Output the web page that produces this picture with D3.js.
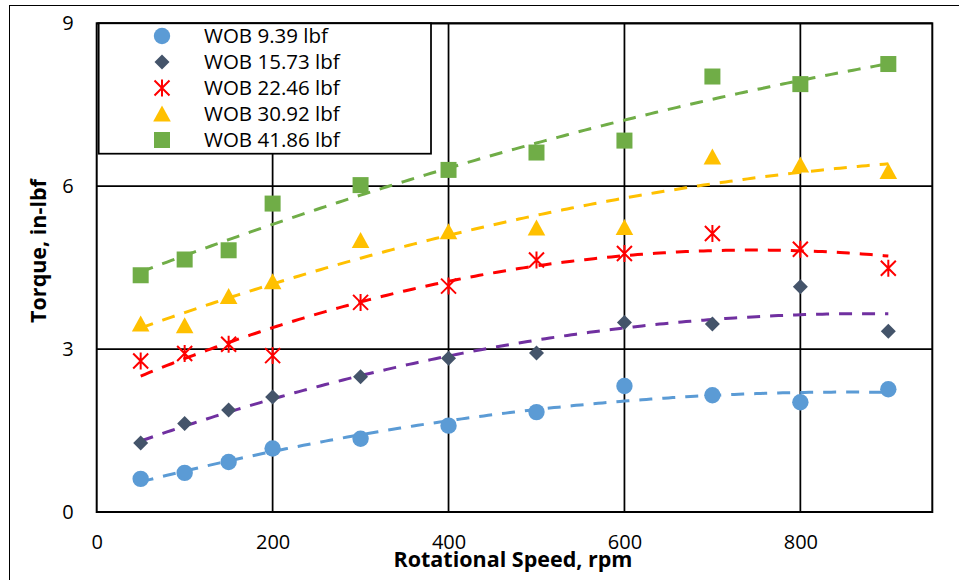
<!DOCTYPE html>
<html><head><meta charset="utf-8">
<script src="https://cdn.jsdelivr.net/npm/d3@7"></script>
<style>body{margin:0;background:#fff} svg{display:block}</style>
</head><body>
<svg id="c" width="959" height="580"></svg>
<script>
// ---- data ----
const rpm = [50,100,150,200,300,400,500,600,700,800,900];
const wob939  = [0.61,0.72,0.92,1.17,1.35,1.59,1.84,2.32,2.15,2.02,2.26];
const wob1573 = [1.27,1.63,1.88,2.12,2.49,2.83,2.93,3.49,3.46,4.15,3.33];
const wob2246 = [2.78,2.92,3.09,2.88,3.86,4.16,4.64,4.76,5.13,4.84,4.49];
const wob3092 = [3.46,3.43,3.97,4.24,5.00,5.16,5.23,5.24,6.54,6.39,6.27];
const wob4186 = [4.36,4.65,4.82,5.68,6.02,6.30,6.62,6.84,8.02,7.88,8.25];
const seriesNames = ["WOB 9.39 lbf","WOB 15.73 lbf","WOB 22.46 lbf","WOB 30.92 lbf","WOB 41.86 lbf"];
const markerColors = ["#5B9BD5","#44546A","#FF0000","#FFC000","#70AD47"];
const trendColors  = ["#5B9BD5","#7030A0","#FF0000","#FFC000","#70AD47"];
const shapes = ["circle","diamond","star","triangle","square"];
const xTicks = [0,200,400,600,800];
const yTicks = [0,3,6,9];
const xTitle = "Rotational Speed, rpm";
const yTitle = "Torque, in-lbf";

const allSeries = [wob939,wob1573,wob2246,wob3092,wob4186];

// ---- layout ----
const svg = d3.select("#c");
const L = 96.7, R = 932.3, T = 23.3, B = 512;
const x = d3.scaleLinear().domain([0,950]).range([L,R]);
const y = d3.scaleLinear().domain([0,9]).range([B,T]);
const FONT = "'Open Sans', Lato, sans-serif";

// outer frame
svg.append("rect").attr("x",9.5).attr("y",5.5).attr("width",1000).attr("height",1000)
  .attr("fill","#fff").attr("stroke","#000").attr("stroke-width",1);

// gridlines
const g = svg.append("g");
g.selectAll(".vg").data(xTicks.filter(d=>d>0)).join("line")
  .attr("x1",d=>x(d)).attr("x2",d=>x(d)).attr("y1",T).attr("y2",B)
  .attr("stroke","#000").attr("stroke-width",1.75);
g.selectAll(".hg").data(yTicks.filter(d=>d>0)).join("line")
  .attr("x1",L).attr("x2",R).attr("y1",d=>y(d)).attr("y2",d=>y(d))
  .attr("stroke","#000").attr("stroke-width",1.75);
// plot border
svg.append("rect").attr("x",L).attr("y",T).attr("width",R-L).attr("height",B-T)
  .attr("fill","none").attr("stroke","#000").attr("stroke-width",2);

// axes labels via d3 axes (no domain, no ticks)
const xAxis = svg.append("g").attr("transform",`translate(0,${B})`)
  .call(d3.axisBottom(x).tickValues(xTicks).tickSize(0).tickPadding(23).tickFormat(d3.format("d")));
xAxis.select(".domain").remove();
xAxis.selectAll("text").attr("font-family",FONT).attr("font-size",20).attr("fill","#000");
const yAxis = svg.append("g").attr("transform",`translate(${L},0)`)
  .call(d3.axisLeft(y).tickValues(yTicks).tickSize(0).tickPadding(23).tickFormat(d3.format("d")));
yAxis.select(".domain").remove();
yAxis.selectAll("text").attr("font-family",FONT).attr("font-size",20).attr("fill","#000");

svg.append("text").attr("x",513).attr("y",567).attr("text-anchor","middle")
  .attr("font-family",FONT).attr("font-weight","bold").attr("font-size",21.5).text(xTitle);
svg.append("text").attr("transform","translate(46,251) rotate(-90)").attr("text-anchor","middle")
  .attr("font-family",FONT).attr("font-weight","bold").attr("font-size",21.5).text(yTitle);

// ---- quadratic least-squares trend ----
function quadFit(xs, ys){
  let S=[0,0,0,0,0], Ty=[0,0,0];
  xs.forEach((xv,i)=>{ for(let k=0;k<5;k++) S[k]+=Math.pow(xv,k); for(let k=0;k<3;k++) Ty[k]+=ys[i]*Math.pow(xv,k); });
  const A=[[S[0],S[1],S[2],Ty[0]],[S[1],S[2],S[3],Ty[1]],[S[2],S[3],S[4],Ty[2]]];
  for(let i=0;i<3;i++){ for(let j=i+1;j<3;j++){ const f=A[j][i]/A[i][i]; for(let k=i;k<4;k++) A[j][k]-=f*A[i][k]; } }
  const c=[0,0,0];
  for(let i=2;i>=0;i--){ let s=A[i][3]; for(let k=i+1;k<3;k++) s-=A[i][k]*c[k]; c[i]=s/A[i][i]; }
  return xv => c[0]+c[1]*xv+c[2]*xv*xv;
}
const line = d3.line().x(d=>x(d[0])).y(d=>y(d[1]));
const xs = d3.range(rpm[0], rpm[rpm.length-1]+0.1, 5);
allSeries.forEach((s,i)=>{
  const f = quadFit(rpm, s);
  svg.append("path").attr("d", line(xs.map(v=>[v,f(v)])))
    .attr("fill","none").attr("stroke",trendColors[i]).attr("stroke-width",3)
    .attr("stroke-dasharray","13,10");
});

// ---- markers ----
function marker(sel, shape, color){
  if(shape==="circle") sel.append("circle").attr("r",8.2).attr("fill",color);
  else if(shape==="square") sel.append("rect").attr("x",-8).attr("y",-8).attr("width",16).attr("height",16).attr("fill",color);
  else if(shape==="diamond") sel.append("path").attr("d","M0,-7.5L7.5,0L0,7.5L-7.5,0Z").attr("fill",color);
  else if(shape==="triangle") sel.append("path").attr("d","M0,-8.5L8.8,7.5L-8.8,7.5Z").attr("fill",color);
  else if(shape==="star") sel.append("path").attr("d","M-7.5,-7.5L7.5,7.5M7.5,-7.5L-7.5,7.5M0,-8.5L0,8.5")
    .attr("stroke",color).attr("stroke-width",2).attr("fill","none");
}
allSeries.forEach((s,i)=>{
  s.forEach((v,j)=>{
    const m = svg.append("g").attr("transform",`translate(${x(rpm[j])},${y(v)})`);
    marker(m, shapes[i], markerColors[i]);
  });
});

// ---- legend ----
svg.append("rect").attr("x",98.7).attr("y",23.3).attr("width",332.3).attr("height",130.4)
  .attr("fill","#fff").attr("stroke","#000").attr("stroke-width",1.75);
seriesNames.forEach((name,i)=>{
  const cy = 36 + i*26;
  const m = svg.append("g").attr("transform",`translate(162,${cy})`);
  marker(m, shapes[i], markerColors[i]);
  svg.append("text").attr("x",204).attr("y",cy).attr("dy","0.36em")
    .attr("font-family",FONT).attr("font-size",20.5).text(name);
});
</script>
</body></html>
